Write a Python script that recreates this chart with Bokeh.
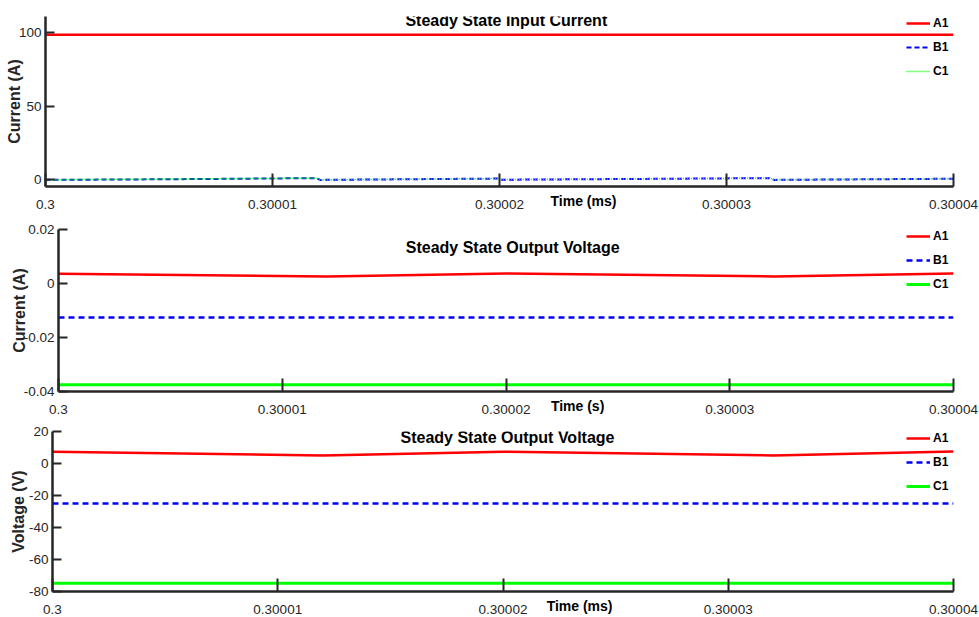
from bokeh.plotting import figure
from bokeh.layouts import column
from bokeh.models import Range1d, FixedTicker, Label, Legend, LegendItem, LinearAxis
from bokeh.embed import file_html
from bokeh.resources import INLINE

# ---------------- data ----------------
x_ticks = [0.3, 0.30001, 0.30002, 0.30003, 0.30004]
x_tick_labels = ["0.3", "0.30001", "0.30002", "0.30003", "0.30004"]

# panel 1: steady state input current
t_in = [0.3, 0.300006, 0.3000119, 0.3000121, 0.3000199, 0.3000201, 0.3000319, 0.3000321, 0.30004]
a1_in = [98.6, 98.6, 98.5, 98.5, 98.6, 98.6, 98.5, 98.5, 98.6]
b1_in = [-0.3, 0.2, 0.9, -0.3, 0.6, -0.2, 0.9, -0.3, 0.5]
c1_in = [-0.2, 0.3, 0.9, -0.2, 0.6, -0.1, 0.9, -0.2, 0.5]
y1_ticks = [0, 50, 100]
y1_labels = ["0", "50", "100"]

# panel 2: steady state output voltage (current axis)
t_out = [0.3, 0.300012, 0.30002, 0.300032, 0.30004]
a1_cur = [0.0036, 0.0026, 0.0037, 0.0026, 0.0037]
b1_cur = [-0.0126, -0.0126, -0.0126, -0.0126, -0.0126]
c1_cur = [-0.0375, -0.0375, -0.0375, -0.0375, -0.0375]
y2_ticks = [-0.04, -0.02, 0, 0.02]
y2_labels = ["-0.04", "-0.02", "0", "0.02"]

# panel 3: steady state output voltage
a1_v = [7.3, 5.0, 7.4, 5.0, 7.5]
b1_v = [-25.0, -25.0, -25.0, -25.0, -25.0]
c1_v = [-74.8, -74.8, -74.8, -74.8, -74.8]
y3_ticks = [-80, -60, -40, -20, 0, 20]
y3_labels = ["-80", "-60", "-40", "-20", "0", "20"]

series_names = ["A1", "B1", "C1"]
titles = ["Steady State Input Current", "Steady State Output Voltage", "Steady State Output Voltage"]
xlabels = ["Time (ms)", "Time (s)", "Time (ms)"]
ylabels = ["Current (A)", "Current (A)", "Voltage (V)"]

# ---------------- style ----------------
FONT = "Liberation Sans"
RED, BLUE, GREEN = "#ff0000", "#0000ff", "#00ff00"


def make_fig(height, bl, bt, bb, yr, yticks, ylabs, ylabel, ylab_standoff, xlabel, xlabel_pos):
    p = figure(width=979, height=height, output_backend="svg", toolbar_location=None,
               x_range=Range1d(0.3, 0.30004), y_range=Range1d(*yr),
               min_border_left=bl, min_border_right=26, min_border_top=bt,
               min_border_bottom=bb, frame_align=False)
    p.outline_line_color = None
    p.xgrid.visible = False
    p.ygrid.visible = False
    p.xaxis.ticker = FixedTicker(ticks=x_ticks)
    p.xaxis.major_label_overrides = dict(zip(x_ticks, x_tick_labels))
    p.yaxis.ticker = FixedTicker(ticks=yticks)
    p.yaxis.major_label_overrides = dict(zip(yticks, ylabs))
    for ax in (p.xaxis, p.yaxis):
        ax.axis_line_color = "#262626"
        ax.axis_line_width = 2.5
        ax.major_tick_line_color = "#262626"
        ax.major_tick_line_width = 2
        ax.minor_tick_line_color = None
        ax.major_tick_out = 0
        ax.minor_tick_out = 0
        ax.minor_tick_in = 0
        ax.major_label_text_font = FONT
        ax.major_label_text_font_size = "13.5px"
        ax.major_label_text_color = "#262626"
    p.xaxis.major_tick_in = 13
    p.yaxis.major_tick_in = 9
    p.xaxis.major_label_standoff = 13
    p.yaxis.major_label_standoff = 4
    p.yaxis.axis_label = ylabel
    p.yaxis.axis_label_text_font = FONT
    p.yaxis.axis_label_text_font_style = "bold"
    p.yaxis.axis_label_text_font_size = "16px"
    p.yaxis.axis_label_text_color = "#262626"
    p.yaxis.axis_label_standoff = ylab_standoff
    # x-axis title, placed in the tick-label row to the right of centre
    xa = LinearAxis(ticker=FixedTicker(ticks=[xlabel_pos]),
                    major_label_overrides={xlabel_pos: xlabel},
                    axis_line_color=None, major_tick_line_color=None,
                    minor_tick_line_color=None, major_tick_out=0, major_tick_in=0,
                    minor_tick_out=0, minor_tick_in=0, major_label_standoff=-19,
                    major_label_text_font=FONT, major_label_text_font_style="bold",
                    major_label_text_font_size="14px", major_label_text_color="black")
    p.add_layout(xa, "below")
    return p


def add_title(p, x, y, txt):
    p.add_layout(Label(x=x, y=y, text=txt, text_font=FONT, text_font_style="bold",
                       text_font_size="16px", text_align="center", text_baseline="middle",
                       text_color="black"))


def add_legend(p, renderers, pad):
    leg = Legend(items=[LegendItem(label=n, renderers=[r]) for n, r in zip(series_names, renderers)],
                 location="top_right", margin=0, padding=pad, spacing=10,
                 glyph_height=12, label_height=12, glyph_width=24, label_standoff=3,
                 background_fill_alpha=0, border_line_color=None,
                 label_text_font=FONT, label_text_font_style="bold",
                 label_text_font_size="12px", label_text_color="black")
    p.add_layout(leg)


# ---- panel 1 ----
p1 = make_fig(211, 45, 16, 25, (-4.8, 111), y1_ticks, y1_labels, ylabels[0], -7, xlabels[0], 0.3000237)
r1 = p1.line(t_in, a1_in, line_color=RED, line_width=2.5)
r2 = p1.line(t_in, b1_in, line_color=BLUE, line_width=2, line_dash="5 3")
r3 = p1.line(t_in, c1_in, line_color=GREEN, line_width=1.5, line_dash="1 1")
add_legend(p1, [r1, r2, r3], 0)
add_title(p1, 0.3000203, 108.4, titles[0])

# ---- panel 2 ----
p2 = make_fig(205, 58, 18, 25, (-0.04, 0.02), y2_ticks, y2_labels, ylabels[1], -7, xlabels[1], 0.3000232)
s1 = p2.line(t_out, a1_cur, line_color=RED, line_width=2.5)
s2 = p2.line(t_out, b1_cur, line_color=BLUE, line_width=2.5, line_dash="6 4")
s3 = p2.line(t_out, c1_cur, line_color=GREEN, line_width=3)
add_legend(p2, [s1, s2, s3], 3)
add_title(p2, 0.3000203, 0.0132, titles[1])

# ---- panel 3 ----
p3 = make_fig(200, 52, 15, 25, (-80, 20), y3_ticks, y3_labels, ylabels[2], -1, xlabels[2], 0.3000234)
q1 = p3.line(t_out, a1_v, line_color=RED, line_width=2.5)
q2 = p3.line(t_out, b1_v, line_color=BLUE, line_width=2.5, line_dash="6 4")
q3 = p3.line(t_out, c1_v, line_color=GREEN, line_width=3)
add_legend(p3, [q1, q2, q3], 3)
add_title(p3, 0.3000202, 16.4, titles[2])

layout = column(p1, p2, p3, spacing=0)
open("out.html", "w").write(file_html(layout, INLINE))
